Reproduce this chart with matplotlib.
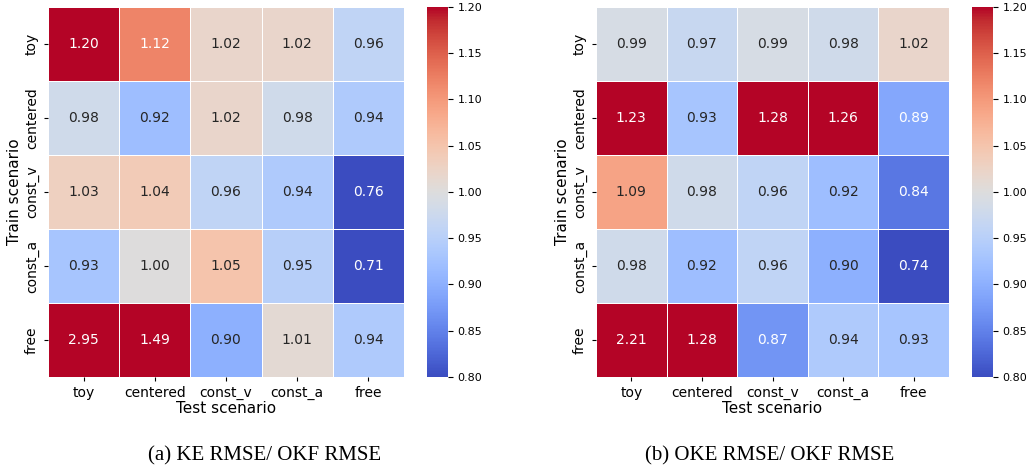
import matplotlib
matplotlib.use("Agg")
import matplotlib.pyplot as plt
import numpy as np
import seaborn as sns

labels = ["toy", "centered", "const_v", "const_a", "free"]
ke_ratio = [
    [1.20, 1.12, 1.02, 1.02, 0.96],
    [0.98, 0.92, 1.02, 0.98, 0.94],
    [1.03, 1.04, 0.96, 0.94, 0.76],
    [0.93, 1.00, 1.05, 0.95, 0.71],
    [2.95, 1.49, 0.90, 1.01, 0.94],
]
oke_ratio = [
    [0.99, 0.97, 0.99, 0.98, 1.02],
    [1.23, 0.93, 1.28, 1.26, 0.89],
    [1.09, 0.98, 0.96, 0.92, 0.84],
    [0.98, 0.92, 0.96, 0.90, 0.74],
    [2.21, 1.28, 0.87, 0.94, 0.93],
]
cbar_ticks = [0.80, 0.85, 0.90, 0.95, 1.00, 1.05, 1.10, 1.15, 1.20]
captions = ["(a) KE RMSE/ OKF RMSE", "(b) OKE RMSE/ OKF RMSE"]

fig = plt.figure(figsize=(10.27, 4.69), dpi=100)
W, H = 1027, 469

def fx(x): return x / W
def fy(y): return 1 - y / H

panels = [
    (ke_ratio, 48, 404, 427, 448, 265),
    (oke_ratio, 596, 949, 972, 993, 770),
]
for (data, x0, x1, cx0, cx1, capx), cap in zip(panels, captions):
    ax = fig.add_axes([fx(x0), fy(377), fx(x1 - x0), (377 - 7) / H])
    cax = fig.add_axes([fx(cx0), fy(377), fx(cx1 - cx0), (377 - 7) / H])
    sns.heatmap(np.array(data), ax=ax, cbar_ax=cax, annot=True, fmt=".2f",
                cmap="coolwarm", vmin=0.8, vmax=1.2, linewidths=0.6, linecolor="white",
                xticklabels=labels, yticklabels=labels,
                annot_kws={"fontsize": 10})
    ax.set_xlabel("Test scenario", fontsize=11, labelpad=1)
    ax.set_ylabel("Train scenario", fontsize=11, labelpad=2)
    ax.tick_params(axis="both", labelsize=10, length=3)
    ax.set_yticklabels(labels, rotation=90, va="center")
    ax.set_xticklabels(labels, rotation=0)
    cax.tick_params(labelsize=8)
    cax.set_yticks(cbar_ticks)
    cax.set_yticklabels([f"{v:.2f}" for v in cbar_ticks])
    fig.text(fx(capx), fy(456), cap, ha="center", va="center",
             fontsize=15, family="Liberation Serif")

fig.savefig("out.png", dpi=100)
